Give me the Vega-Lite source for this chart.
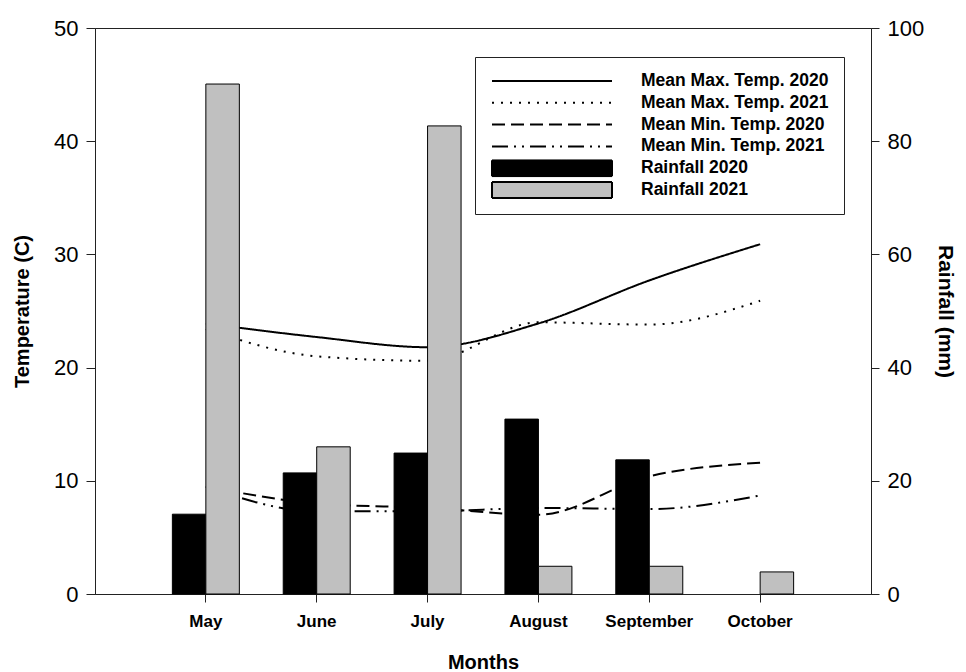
{
  "$schema": "https://vega.github.io/schema/vega-lite/v6.json",
  "width": 776,
  "height": 566,
  "autosize": "none",
  "padding": {"left": 95, "top": 28, "right": 95, "bottom": 78},
  "background": "white",
  "config": {
    "font": "Liberation Sans",
    "view": {"stroke": "#222", "strokeWidth": 1},
    "axis": {
      "grid": false,
      "domainColor": "#222",
      "tickColor": "#222",
      "labelColor": "black",
      "titleColor": "black",
      "labelFont": "Liberation Sans",
      "titleFont": "Liberation Sans"
    },
    "legend": {
      "title": null,
      "orient": "none",
      "legendX": 380,
      "legendY": 29,
      "padding": 15,
      "strokeColor": "#222",
      "fillColor": "white",
      "symbolSize": 256,
      "symbolStrokeWidth": 2,
      "symbolOpacity": 1,
      "symbolOffset": 53,
      "labelOffset": 80,
      "clipHeight": 18,
      "rowPadding": 3.8,
      "labelFont": "Liberation Sans",
      "labelFontWeight": "bold",
      "labelFontSize": 17.5,
      "labelColor": "black",
      "labelLimit": 300
    }
  },
  "datasets": {
    "temp": [
      {"month": "May", "series": "Mean Max. Temp. 2020", "value": 23.9},
      {"month": "June", "series": "Mean Max. Temp. 2020", "value": 22.7},
      {"month": "July", "series": "Mean Max. Temp. 2020", "value": 21.8},
      {"month": "August", "series": "Mean Max. Temp. 2020", "value": 23.9},
      {"month": "September", "series": "Mean Max. Temp. 2020", "value": 27.7},
      {"month": "October", "series": "Mean Max. Temp. 2020", "value": 30.9},
      {"month": "May", "series": "Mean Max. Temp. 2021", "value": 23.4},
      {"month": "June", "series": "Mean Max. Temp. 2021", "value": 21.0},
      {"month": "July", "series": "Mean Max. Temp. 2021", "value": 20.6},
      {"month": "August", "series": "Mean Max. Temp. 2021", "value": 24.0},
      {"month": "September", "series": "Mean Max. Temp. 2021", "value": 23.8},
      {"month": "October", "series": "Mean Max. Temp. 2021", "value": 25.9},
      {"month": "May", "series": "Mean Min. Temp. 2020", "value": 9.5},
      {"month": "June", "series": "Mean Min. Temp. 2020", "value": 8.0},
      {"month": "July", "series": "Mean Min. Temp. 2020", "value": 7.6},
      {"month": "August", "series": "Mean Min. Temp. 2020", "value": 7.0},
      {"month": "September", "series": "Mean Min. Temp. 2020", "value": 10.4},
      {"month": "October", "series": "Mean Min. Temp. 2020", "value": 11.6},
      {"month": "May", "series": "Mean Min. Temp. 2021", "value": 9.5},
      {"month": "June", "series": "Mean Min. Temp. 2021", "value": 7.3},
      {"month": "July", "series": "Mean Min. Temp. 2021", "value": 7.3},
      {"month": "August", "series": "Mean Min. Temp. 2021", "value": 7.6},
      {"month": "September", "series": "Mean Min. Temp. 2021", "value": 7.5},
      {"month": "October", "series": "Mean Min. Temp. 2021", "value": 8.7}
    ],
    "rain": [
      {"month": "May", "year": "Rainfall 2020", "value": 14.1},
      {"month": "June", "year": "Rainfall 2020", "value": 21.4},
      {"month": "July", "year": "Rainfall 2020", "value": 24.9},
      {"month": "August", "year": "Rainfall 2020", "value": 30.9},
      {"month": "September", "year": "Rainfall 2020", "value": 23.7},
      {"month": "May", "year": "Rainfall 2021", "value": 90.1},
      {"month": "June", "year": "Rainfall 2021", "value": 26.0},
      {"month": "July", "year": "Rainfall 2021", "value": 82.7},
      {"month": "August", "year": "Rainfall 2021", "value": 4.9},
      {"month": "September", "year": "Rainfall 2021", "value": 4.9},
      {"month": "October", "year": "Rainfall 2021", "value": 3.9}
    ]
  },
  "encoding": {
    "x": {
      "field": "month",
      "type": "nominal",
      "sort": ["May", "June", "July", "August", "September", "October"],
      "scale": {"domain": ["May", "June", "July", "August", "September", "October"], "paddingInner": 0, "paddingOuter": 0.5},
      "axis": {
        "title": "Months",
        "labelAngle": 0,
        "labelFontSize": 17,
        "labelFontWeight": "bold",
        "labelPadding": 11,
        "tickSize": 8,
        "titleFontSize": 20,
        "titleFontWeight": "bold",
        "titlePadding": 23
      }
    }
  },
  "layer": [
    {
      "data": {"name": "temp"},
      "mark": {"type": "line", "interpolate": "monotone", "strokeWidth": 2, "color": "black"},
      "encoding": {
        "y": {
          "field": "value",
          "type": "quantitative",
          "scale": {"domain": [0, 50], "nice": false, "zero": true},
          "axis": {
            "orient": "left",
            "title": "Temperature (C)",
            "values": [0, 10, 20, 30, 40, 50],
            "labelFontSize": 22,
            "labelPadding": 8,
            "tickSize": 9,
            "titleFontSize": 20,
            "titleFontWeight": "bold",
            "titlePadding": 21
          }
        },
        "strokeDash": {
          "field": "series",
          "type": "nominal",
          "scale": {
            "domain": ["Mean Max. Temp. 2020", "Mean Max. Temp. 2021", "Mean Min. Temp. 2020", "Mean Min. Temp. 2021"],
            "range": [[1, 0], [2, 7], [13, 6], [16, 6, 2, 6, 2, 6]]
          },
          "legend": null
        }
      }
    },
    {
      "data": {"name": "temp"},
      "mark": {"type": "point", "filled": true, "opacity": 0, "size": 256, "stroke": "black", "strokeWidth": 2},
      "encoding": {
        "y": {
          "field": "value",
          "type": "quantitative",
          "scale": {"domain": [0, 50], "nice": false},
          "axis": null
        },
        "shape": {
          "field": "series",
          "type": "nominal",
          "scale": {
            "domain": ["Mean Max. Temp. 2020", "Mean Max. Temp. 2021", "Mean Min. Temp. 2020", "Mean Min. Temp. 2021", "Rainfall 2020", "Rainfall 2021"],
            "range": ["M-7.5,0H7.5", "M-7.5,0H7.5", "M-7.5,0H7.5", "M-7.5,0H7.5", "M-7.5,-1H7.5V1H-7.5Z", "M-7.5,-1H7.5V1H-7.5Z"]
          }
        },
        "fill": {
          "field": "series",
          "type": "nominal",
          "scale": {
            "domain": ["Mean Max. Temp. 2020", "Mean Max. Temp. 2021", "Mean Min. Temp. 2020", "Mean Min. Temp. 2021", "Rainfall 2020", "Rainfall 2021"],
            "range": ["transparent", "transparent", "transparent", "transparent", "black", "#c0c0c0"]
          }
        },
        "strokeDash": {
          "field": "series",
          "type": "nominal",
          "scale": {
            "domain": ["Mean Max. Temp. 2020", "Mean Max. Temp. 2021", "Mean Min. Temp. 2020", "Mean Min. Temp. 2021", "Rainfall 2020", "Rainfall 2021"],
            "range": [[1, 0], [2, 7], [13, 6], [16, 6, 2, 6, 2, 6], [1, 0], [1, 0]]
          }
        }
      }
    },
    {
      "data": {"name": "rain"},
      "mark": {"type": "bar", "stroke": "black", "strokeWidth": 1},
      "encoding": {
        "xOffset": {
          "field": "year",
          "type": "nominal",
          "scale": {"domain": ["Rainfall 2020", "Rainfall 2021"], "paddingInner": 0, "paddingOuter": 0.655}
        },
        "y": {
          "field": "value",
          "type": "quantitative",
          "scale": {"domain": [0, 100], "nice": false},
          "axis": {
            "orient": "right",
            "title": "Rainfall (mm)",
            "values": [0, 20, 40, 60, 80, 100],
            "labelFontSize": 22,
            "labelPadding": 8,
            "tickSize": 8,
            "titleFontSize": 21,
            "titleFontWeight": "bold",
            "titlePadding": 11
          }
        },
        "fill": {
          "field": "year",
          "type": "nominal",
          "scale": {"domain": ["Rainfall 2020", "Rainfall 2021"], "range": ["black", "#c0c0c0"]},
          "legend": null
        }
      }
    }
  ],
  "resolve": {"scale": {"y": "independent", "strokeDash": "independent", "fill": "independent", "shape": "independent"}}
}
